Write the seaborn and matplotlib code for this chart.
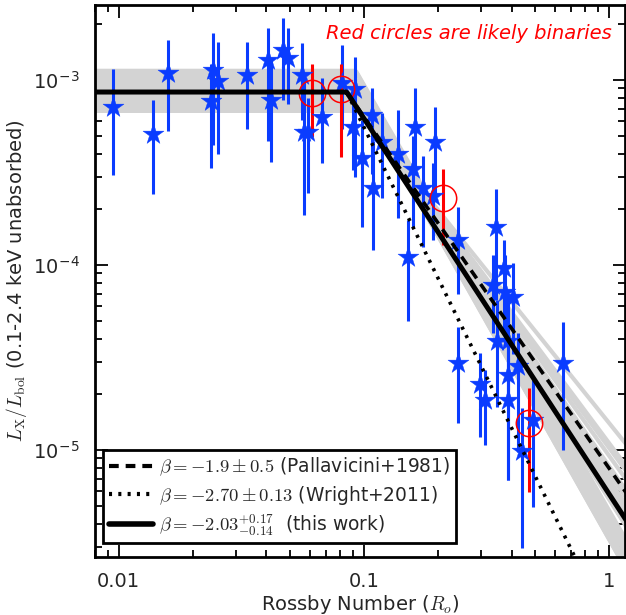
import numpy as np
import matplotlib
matplotlib.use("Agg")
import matplotlib.pyplot as plt
import seaborn as sns
from matplotlib.lines import Line2D

sns.set_style("ticks")
plt.rcParams["font.family"] = ["DejaVu Sans"]
plt.rcParams["mathtext.fontset"] = "cm"
plt.rcParams["lines.scale_dashes"] = False

# ---- single stars: Rossby number, Lx/Lbol, lower and upper error bounds
ro = [0.00945, 0.01376, 0.01585, 0.0242, 0.0254, 0.0237, 0.0333, 0.0406, 0.0417,
      0.0467, 0.049, 0.0558, 0.0569, 0.0591, 0.0674, 0.0813, 0.0919, 0.0902,
      0.0981, 0.1078, 0.1088, 0.1185, 0.1377, 0.1512, 0.1615, 0.1585, 0.1741,
      0.1949, 0.1912, 0.2419, 0.3457, 0.3361, 0.3728, 0.3763, 0.4057, 0.349,
      0.3871, 0.4252, 0.3871, 0.2419, 0.649, 0.2975, 0.3118, 0.3871, 0.4895, 0.4415]
lx = [7.1e-4, 5.1e-4, 1.09e-3, 1.13e-3, 9.9e-4, 7.7e-4, 1.06e-3, 1.28e-3, 7.8e-4,
      1.45e-3, 1.32e-3, 1.06e-3, 5.2e-4, 5.2e-4, 6.3e-4, 9.6e-4, 8.9e-4, 5.6e-4,
      3.8e-4, 6.5e-4, 2.6e-4, 4.6e-4, 4.0e-4, 1.1e-4, 5.6e-4, 3.3e-4, 2.6e-4,
      4.6e-4, 2.36e-4, 1.37e-4, 1.6e-4, 7.8e-5, 9.6e-5, 7.15e-5, 6.7e-5, 3.9e-5,
      3.9e-5, 2.84e-5, 2.54e-5, 2.95e-5, 2.95e-5, 2.27e-5, 1.86e-5, 1.86e-5, 1.45e-5, 9.9e-6]
lx_lo = [3.07e-4, 2.42e-4, 5.3e-4, 4.45e-4, 3.98e-4, 3.34e-4, 5.4e-4, 4.7e-4, 3.6e-4,
         7.8e-4, 7.4e-4, 6.1e-4, 1.86e-4, 2.45e-4, 3.56e-4, 5.4e-4, 2.99e-4, 3.26e-4,
         1.6e-4, 3.1e-4, 1.2e-4, 2.3e-4, 1.8e-4, 5.0e-5, 3.07e-4, 1.6e-4, 1.25e-4,
         2.25e-4, 1.37e-4, 7.0e-5, 6.5e-5, 4.3e-5, 4.45e-5, 3.7e-5, 3.3e-5, 1.7e-5,
         1.86e-5, 9.8e-6, 6.9e-6, 1.4e-5, 1.0e-5, 1.18e-5, 1.06e-5, 6.9e-6, 4.9e-6, 2.95e-6]
lx_hi = [1.15e-3, 7.8e-4, 1.65e-3, 1.8e-3, 1.6e-3, 1.22e-3, 1.6e-3, 1.91e-3, 1.28e-3,
         2.16e-3, 1.91e-3, 1.58e-3, 1.0e-3, 8.0e-4, 1.02e-3, 1.55e-3, 1.33e-3, 8.8e-4,
         6.1e-4, 9.05e-4, 4.7e-4, 6.6e-4, 6.9e-4, 1.75e-4, 9.05e-4, 5.0e-4, 3.9e-4,
         7.1e-4, 3.56e-4, 2.06e-4, 2.58e-4, 1.13e-4, 1.37e-4, 1.13e-4, 1.03e-4, 6.5e-5,
         6.9e-5, 4.3e-5, 5.0e-5, 4.6e-5, 4.9e-5, 3.34e-5, 2.7e-5, 3.47e-5, 2.39e-5, 1.69e-5]

# ---- likely binaries (red circles)
bin_ro = [0.0614, 0.0806, 0.2101, 0.4715]
bin_lx = [8.5e-4, 8.9e-4, 2.3e-4, 1.4e-5]
bin_lo = [4.9e-4, 3.84e-4, 1.28e-4, 5.9e-6]
bin_hi = [1.22e-3, 1.22e-3, 3.3e-4, 2.16e-5]

# ---- best fit (saturation level, saturation Rossby number, slopes)
fit_sat = 8.6e-4
fit_rsat = 0.085
beta_this = -2.03
beta_pall = -1.9
beta_wright = -2.70

# ---- posterior samples (grey lines)
samp_sat = [1.12e-3, 1.08e-3, 1.04e-3, 1.0e-3, 9.7e-4, 9.4e-4, 9.1e-4, 8.8e-4,
            8.6e-4, 8.3e-4, 8.0e-4, 7.7e-4, 7.4e-4, 7.1e-4, 6.8e-4, 9.55e-4,
            8.1e-4, 7.8e-4, 1.02e-3, 8.9e-4, 7.2e-4, 1.1e-3, 6.9e-4, 9.3e-4]
samp_rsat = [0.0926, 0.0937, 0.0873, 0.0900, 0.0828, 0.0931, 0.0863, 0.0941,
             0.0865, 0.0973, 0.0911, 0.0955, 0.0933, 0.1016, 0.1000, 0.0809,
             0.0882, 0.0963, 0.0824, 0.0922, 0.0997, 0.0887, 0.1019, 0.0785]
samp_beta = [-2.30, -2.35, -2.10, -2.25, -1.95, -2.30, -2.05, -2.15,
             -1.85, -2.30, -2.00, -2.20, -1.90, -2.35, -2.10, -1.78,
             -1.80, -2.30, -2.00, -2.35, -2.05, -2.15, -2.25, -1.65]

BLUE = "#0a3cff"

fig = plt.figure(figsize=(6.26, 6.15), dpi=100)
ax = fig.add_axes([95 / 626, 58 / 615, 530 / 626, 552 / 615])
ax.set_xscale("log")
ax.set_yscale("log")

grid = np.logspace(-2.3, 0.2, 600)


def broken(sat, rsat, beta):
    return sat * np.where(grid < rsat, 1.0, (grid / rsat) ** beta)


for s, r, b in zip(samp_sat, samp_rsat, samp_beta):
    ax.plot(grid, broken(s, r, b), color="#d3d3d3", lw=3.0, zorder=1,
            solid_capstyle="butt")

ro_a = np.array(ro)
lx_a = np.array(lx)
ax.errorbar(ro_a, lx_a, yerr=[lx_a - np.array(lx_lo), np.array(lx_hi) - lx_a],
            fmt="none", ecolor=BLUE, elinewidth=2.2, capsize=0, zorder=3)
sns.scatterplot(x=ro, y=lx, ax=ax, marker="*", s=250, color=BLUE,
                edgecolor=BLUE, linewidth=0.3, zorder=4, legend=False)

b_ro = np.array(bin_ro)
b_lx = np.array(bin_lx)
ax.errorbar(b_ro, b_lx, yerr=[b_lx - np.array(bin_lo), np.array(bin_hi) - b_lx],
            fmt="none", ecolor="red", elinewidth=2.2, capsize=0, zorder=3)
ax.plot(b_ro, b_lx, ls="none", marker="o", ms=19, mfc="none", mec="red",
        mew=1.1, zorder=4)

# reference relations
mask = grid >= fit_rsat
ax.plot(grid[mask], fit_sat * (grid[mask] / fit_rsat) ** beta_pall, color="black",
        lw=2.6, dashes=(7, 5), zorder=5)
ax.plot(grid[mask], fit_sat * (grid[mask] / fit_rsat) ** beta_wright, color="black",
        lw=2.6, dashes=(2.2, 4.5), zorder=5)
ax.plot(grid, broken(fit_sat, fit_rsat, beta_this), color="black", lw=3.6, zorder=6)

ax.set_xlim(0.008, 1.16)
ax.set_ylim(2.64e-6, 2.54e-3)

ax.set_xticks([0.01, 0.1, 1])
ax.set_xticklabels(["0.01", "0.1", "1"])
ax.set_yticks([1e-5, 1e-4, 1e-3])
ax.set_yticklabels([r"10$^{\mathregular{-5}}$", r"10$^{\mathregular{-4}}$",
                    r"10$^{\mathregular{-3}}$"])
ax.tick_params(which="both", direction="in", top=True, right=True, labelsize=14,
               pad=11, width=1.3, color="black")
ax.tick_params(which="major", length=9)
ax.tick_params(which="minor", length=5)
for sp in ax.spines.values():
    sp.set_linewidth(2)
    sp.set_color("black")

ax.set_xlabel(r"Rossby Number ($R_o$)", fontsize=14)
ax.xaxis.set_label_coords(0.5, -0.066)
ax.set_ylabel(r"$L_{\rm X}/L_{\rm bol}$ (0.1-2.4 keV unabsorbed)", fontsize=14)
ax.yaxis.set_label_coords(-0.124, 0.5)

ax.text(0.975, 0.949, "Red circles are likely binaries", color="red",
        style="italic", fontsize=14, ha="right", va="center", transform=ax.transAxes)

handles = [
    Line2D([], [], color="black", lw=3, dashes=(7, 5)),
    Line2D([], [], color="black", lw=3, dashes=(2.2, 4.5)),
    Line2D([], [], color="black", lw=4),
]
labels = [
    r"$\beta = -1.9 \pm 0.5$ (Pallavicini+1981)",
    r"$\beta = -2.70 \pm 0.13$ (Wright+2011)",
    r"$\beta = -2.03^{+0.17}_{-0.14}$  (this work)",
]
leg = ax.legend(handles, labels, loc="lower left", bbox_to_anchor=(0.015, 0.025),
                borderaxespad=0, fontsize=13.4, handlelength=2.4, handletextpad=0.3,
                labelspacing=0.3, borderpad=0.3, fancybox=False, framealpha=1,
                edgecolor="black")
leg.get_frame().set_linewidth(2)
leg.set_zorder(10)

fig.savefig("out.png", dpi=100)
